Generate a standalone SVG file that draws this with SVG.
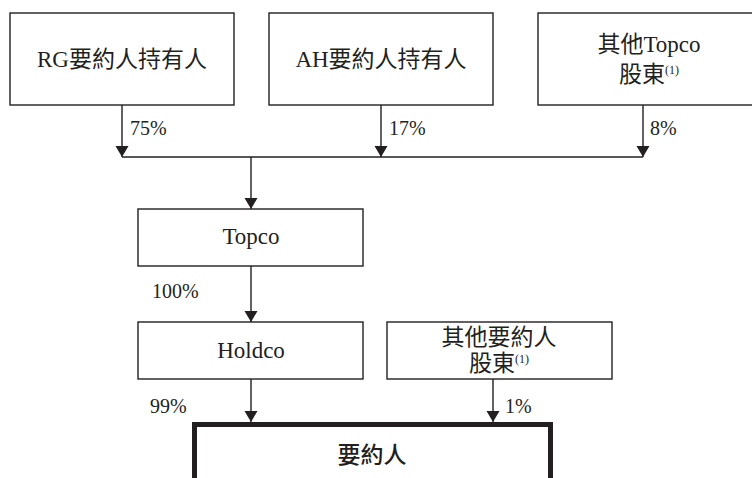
<svg xmlns="http://www.w3.org/2000/svg" width="752" height="478" viewBox="0 0 752 478">
<defs>
<marker id="ah" markerUnits="userSpaceOnUse" markerWidth="12" markerHeight="14" refX="11" refY="7" orient="auto" viewBox="0 0 12 14">
<path d="M0,0.5 L11,7 L0,13.5 Z" fill="#231f20"/>
</marker>
<style>
.box{fill:#fff;stroke:#231f20;stroke-width:1.4}
.main{fill:#fff;stroke:#231f20;stroke-width:5}
.ln{fill:none;stroke:#231f20;stroke-width:1.4}
.t{font-family:"Liberation Serif","Times New Roman","Noto Sans CJK TC",serif;font-size:23px;fill:#231f20;text-anchor:middle}
.p{font-family:"Liberation Serif","Times New Roman",serif;font-size:20px;fill:#231f20}
.sup{font-size:12px}
.m{font-family:"Noto Sans CJK TC",sans-serif;font-size:23px;font-weight:500;fill:#231f20;text-anchor:middle}
</style>
</defs>
<g id="connectors">
<line class="ln" x1="122" y1="105" x2="122" y2="157" marker-end="url(#ah)"/>
<line class="ln" x1="381" y1="105" x2="381" y2="157" marker-end="url(#ah)"/>
<line class="ln" x1="643" y1="105" x2="643" y2="157" marker-end="url(#ah)"/>
<line class="ln" x1="122" y1="157" x2="643" y2="157"/>
<line class="ln" x1="251" y1="157" x2="251" y2="209" marker-end="url(#ah)"/>
<line class="ln" x1="251" y1="266" x2="251" y2="322" marker-end="url(#ah)"/>
<line class="ln" x1="251" y1="379" x2="251" y2="422" marker-end="url(#ah)"/>
<line class="ln" x1="493" y1="379" x2="493" y2="422" marker-end="url(#ah)"/>
<text class="p" x="130" y="135">75%</text>
<text class="p" x="389" y="135">17%</text>
<text class="p" x="650" y="135">8%</text>
<text class="p" x="152" y="298">100%</text>
<text class="p" x="150" y="413">99%</text>
<text class="p" x="505" y="413">1%</text>
</g>
<g id="rg">
<rect class="box" x="10" y="13" width="224" height="92"/>
<text class="t" x="122" y="67">RG要約人持有人</text>
</g>
<g id="ah-holder">
<rect class="box" x="269" y="13" width="224" height="92"/>
<text class="t" x="381" y="67">AH要約人持有人</text>
</g>
<g id="other-topco">
<rect class="box" x="538" y="13" width="224" height="92"/>
<text class="t" x="649" y="52">其他Topco</text>
<text class="t" x="649" y="82">股東<tspan class="sup" dy="-8">(1)</tspan></text>
</g>
<g id="topco">
<rect class="box" x="138" y="209" width="225" height="57"/>
<text class="t" x="251" y="244">Topco</text>
</g>
<g id="holdco">
<rect class="box" x="138" y="322" width="225" height="57"/>
<text class="t" x="251" y="358">Holdco</text>
</g>
<g id="other-offeror">
<rect class="box" x="387" y="322" width="225" height="57"/>
<text class="t" x="499" y="345">其他要約人</text>
<text class="t" x="499" y="371">股東<tspan class="sup" dy="-8">(1)</tspan></text>
</g>
<g id="offeror">
<rect class="main" x="194.5" y="424.5" width="356" height="70"/>
<text class="m" x="372" y="463">要約人</text>
</g>
</svg>
